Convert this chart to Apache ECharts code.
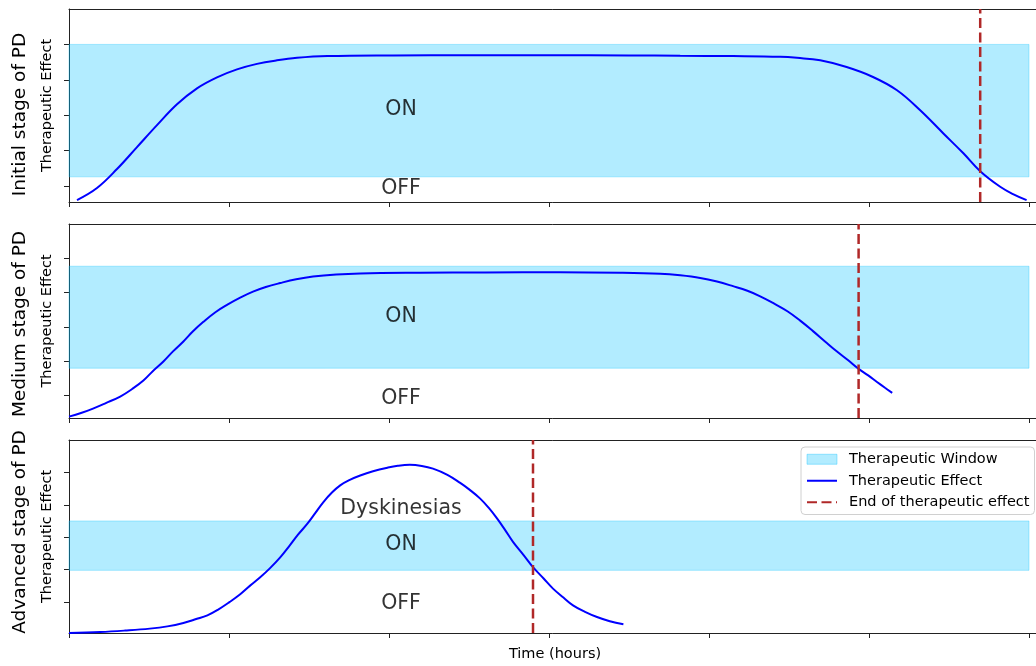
<!DOCTYPE html>
<html>
<head>
<meta charset="utf-8">
<script src="https://cdn.jsdelivr.net/npm/echarts@6/dist/echarts.min.js"></script>
<style>html,body{margin:0;padding:0;background:#fff}#c{width:1036px;height:666px}</style>
</head>
<body>
<div id="c"></div>
<script>
// ---- data ----
const stageLabels = ['Initial stage of PD', 'Medium stage of PD', 'Advanced stage of PD'];
const yTickValues = [0.2, 0.4, 0.6, 0.8, 1.0];
const xTickValues = [0, 2, 4, 6, 8, 10, 12];

const initialX = [0.1, 0.35, 0.6, 0.85, 1.1, 1.35, 1.6, 1.85, 2.1, 2.35, 2.6, 2.85, 3.23, 4.05, 5.0, 6.0, 7.0, 7.64, 8.3, 8.89, 9.1, 9.39, 9.72, 10.05, 10.35, 10.64, 10.93, 11.18, 11.39, 11.64, 11.8, 11.97];
const initialY = [0.121, 0.189, 0.296, 0.420, 0.544, 0.662, 0.752, 0.814, 0.859, 0.890, 0.910, 0.924, 0.934, 0.938, 0.939, 0.939, 0.938, 0.936, 0.934, 0.930, 0.924, 0.910, 0.872, 0.816, 0.741, 0.628, 0.497, 0.385, 0.284, 0.196, 0.155, 0.121];

const mediumX = [0, 0.15, 0.3, 0.46, 0.64, 0.79, 0.93, 1.05, 1.18, 1.3, 1.43, 1.55, 1.68, 1.83, 1.98, 2.14, 2.3, 2.46, 2.64, 2.84, 3.05, 3.34, 3.64, 4.39, 5.2, 6.14, 6.89, 7.39, 7.64, 7.89, 8.1, 8.3, 8.48, 8.64, 8.8, 8.98, 9.14, 9.3, 9.45, 9.6, 9.74, 9.86, 9.99, 10.1, 10.2, 10.29];
const mediumY = [0.078, 0.099, 0.125, 0.157, 0.195, 0.239, 0.288, 0.344, 0.399, 0.458, 0.516, 0.575, 0.630, 0.686, 0.730, 0.771, 0.806, 0.833, 0.856, 0.878, 0.894, 0.906, 0.912, 0.916, 0.918, 0.919, 0.916, 0.910, 0.901, 0.886, 0.865, 0.838, 0.811, 0.779, 0.740, 0.692, 0.637, 0.576, 0.516, 0.457, 0.406, 0.360, 0.318, 0.280, 0.246, 0.216];

const advancedX = [0, 0.39, 0.7, 1.01, 1.23, 1.43, 1.59, 1.73, 1.86, 2.01, 2.14, 2.26, 2.39, 2.51, 2.64, 2.76, 2.86, 2.98, 3.08, 3.18, 3.29, 3.39, 3.51, 3.64, 3.8, 3.98, 4.11, 4.26, 4.41, 4.55, 4.73, 4.89, 5.01, 5.14, 5.25, 5.35, 5.45, 5.55, 5.68, 5.8, 5.93, 6.05, 6.18, 6.3, 6.45, 6.6, 6.76, 6.93];
const advancedY = [0.008, 0.014, 0.023, 0.035, 0.049, 0.070, 0.094, 0.117, 0.151, 0.200, 0.247, 0.299, 0.352, 0.407, 0.475, 0.549, 0.614, 0.683, 0.750, 0.817, 0.877, 0.920, 0.954, 0.981, 1.007, 1.029, 1.041, 1.047, 1.040, 1.023, 0.985, 0.935, 0.892, 0.838, 0.779, 0.716, 0.645, 0.571, 0.491, 0.415, 0.346, 0.282, 0.227, 0.179, 0.139, 0.107, 0.081, 0.062];

const windowLow = [0.252, 0.36, 0.395];
const windowHigh = [1.0, 0.954, 0.70];
const windowXStart = 0;
const windowXEnd = 12;
const endOfEffectX = [11.39, 9.87, 5.80];

const yMin = [0.11, 0.07, 0.008];
const yMax = [1.2, 1.2, 1.2];
const xMin = 0;
const xMax = 12.15;

const textX = 4.15;
const panelTexts = [
  [['ON', 0.631], ['OFF', 0.183]],
  [['ON', 0.66], ['OFF', 0.18]],
  [['Dyskinesias', 0.776], ['ON', 0.554], ['OFF', 0.19]]
];

// ---- layout ----
const FONT = 'DejaVu Sans';
const gridTops = [9, 224, 440];
const gridHeights = [193, 194, 193];
const stageLabelY = [114.5, 324, 532];
const curvesX = [initialX, mediumX, advancedX];
const curvesY = [initialY, mediumY, advancedY];
const axisColor = '#222';
const winColor = 'rgba(0,191,255,0.3)';
const noSymbol = {color: 'rgba(0,0,0,0)', borderColor: 'rgba(0,0,0,0)', borderWidth: 0, opacity: 0};

const grids = [], xAxes = [], yAxes = [], series = [], graphics = [];
for (let i = 0; i < 3; i++) {
  grids.push({left: 69, width: 972, top: gridTops[i], height: gridHeights[i], show: false, outerBoundsMode: 'none', containLabel: false});
  xAxes.push({
    gridIndex: i, type: 'value', min: xMin, max: xMax, position: 'bottom',
    axisLine: {show: true, onZero: false, lineStyle: {color: axisColor, width: 1}},
    axisTick: {show: true, length: 5, customValues: xTickValues, lineStyle: {color: axisColor, width: 1}},
    axisLabel: {show: false}, splitLine: {show: false},
    name: i === 2 ? 'Time (hours)' : '', nameLocation: 'middle', nameGap: 14,
    nameTextStyle: {fontSize: 14.5, color: '#000', fontFamily: FONT}
  });
  yAxes.push({
    gridIndex: i, type: 'value', min: yMin[i], max: yMax[i],
    axisLine: {show: true, onZero: false, lineStyle: {color: axisColor, width: 1}},
    axisTick: {show: true, length: 5, customValues: yTickValues, lineStyle: {color: axisColor, width: 1}},
    axisLabel: {show: false}, splitLine: {show: false},
    name: 'Therapeutic Effect', nameLocation: 'middle', nameGap: 14,
    nameTextStyle: {fontSize: 14.5, color: '#000', fontFamily: FONT}
  });
  series.push({
    name: 'Therapeutic Window', type: 'line', xAxisIndex: i, yAxisIndex: i, data: [],
    color: winColor, symbol: 'none', silent: true, z: 1,
    markArea: {silent: true, itemStyle: {color: winColor, borderColor: winColor, borderWidth: 1},
      data: [[{xAxis: windowXStart, yAxis: windowLow[i]}, {xAxis: windowXEnd, yAxis: windowHigh[i]}]]}
  });
  series.push({
    name: 'Therapeutic Effect', type: 'line', xAxisIndex: i, yAxisIndex: i,
    data: curvesX[i].map((x, k) => [x, curvesY[i][k]]),
    smooth: 0.4, symbol: 'none', color: '#0000ff',
    lineStyle: {color: '#0000ff', width: 2}, z: 3
  });
  series.push({
    name: 'End of therapeutic effect', type: 'line', xAxisIndex: i, yAxisIndex: i,
    data: [[endOfEffectX[i], yMin[i]], [endOfEffectX[i], yMax[i]]],
    symbol: 'none', color: '#b02828',
    lineStyle: {color: '#b02828', width: 2.5, type: [10, 4.5]}, z: 4
  });
  series.push({
    type: 'scatter', xAxisIndex: i, yAxisIndex: i, symbolSize: 0, silent: true, z: 5,
    data: panelTexts[i].map(t => ({name: t[0], value: [textX, t[1]]})),
    label: {show: true, position: 'inside', formatter: '{b}', fontSize: 20.5, color: '#000', textBorderWidth: 0, fontFamily: FONT}
  });
  graphics.push({
    type: 'text', x: 20, y: stageLabelY[i], rotation: Math.PI / 2,
    style: {text: stageLabels[i], fontSize: 18.5, fontFamily: FONT, fill: '#000', align: 'center', verticalAlign: 'middle'}
  });
}
// top spines (axis line only)
for (let i = 0; i < 3; i++) {
  xAxes.push({
    gridIndex: i, type: 'value', min: xMin, max: xMax, position: 'top',
    axisLine: {show: true, onZero: false, lineStyle: {color: axisColor, width: 1}},
    axisTick: {show: false}, axisLabel: {show: false}, splitLine: {show: false}
  });
}

const chart = echarts.init(document.getElementById('c'), null, {renderer: 'canvas'});
chart.setOption({
  animation: false,
  backgroundColor: '#fff',
  textStyle: {fontFamily: FONT},
  grid: grids, xAxis: xAxes, yAxis: yAxes, series: series, graphic: graphics,
  legend: {
    orient: 'vertical', left: 801, top: 447, padding: [4, 5, 4, 5],
    itemWidth: 30, itemHeight: 10, itemGap: 5,
    borderColor: '#d0d0d0', borderWidth: 1, borderRadius: 4, backgroundColor: 'rgba(255,255,255,0.85)',
    textStyle: {fontSize: 14.5, color: '#000', fontFamily: FONT, lineHeight: 16.5, padding: [0, 0, 0, 7]},
    data: [
      {name: 'Therapeutic Window', icon: 'rect', itemStyle: {color: winColor, borderColor: 'rgba(0,191,255,0.35)', borderWidth: 1}},
      {name: 'Therapeutic Effect', itemStyle: noSymbol},
      {name: 'End of therapeutic effect', itemStyle: noSymbol}
    ]
  }
});
</script>
</body>
</html>
